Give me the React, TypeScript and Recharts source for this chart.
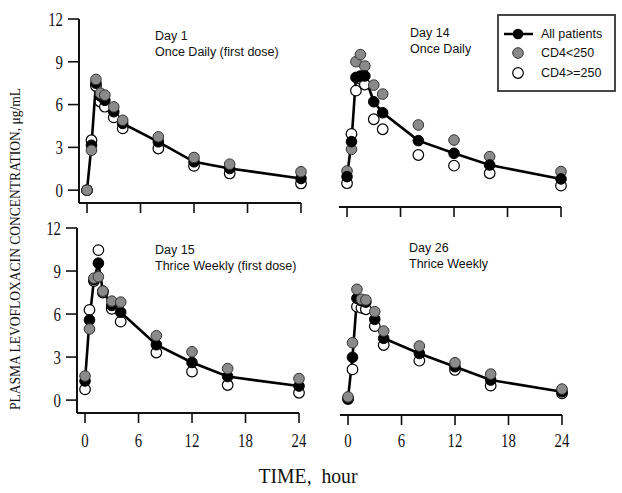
import React from "react";
import { ComposedChart, Line, Scatter, XAxis, YAxis, Legend } from "recharts";

// sampling times (hour)
const times = [0, 0.5, 1, 1.5, 2, 3, 4, 8, 12, 16, 24];
const xTicks = [0, 6, 12, 18, 24];
const yTicks = [0, 3, 6, 9, 12];
const seriesNames = ["All patients", "CD4<250", "CD4>=250"];

// Day 1, once daily (first dose)
const day1All = [0, 3.15, 7.5, 6.6, 6.3, 5.5, 4.68, 3.39, 1.99, 1.52, 0.82];
const day1Low = [0, 2.8, 7.76, 6.8, 6.66, 5.84, 4.9, 3.74, 2.29, 1.82, 1.29];
const day1High = [0, 3.5, 7.3, 6.2, 5.85, 5.1, 4.33, 2.92, 1.7, 1.17, 0.47];

// Day 14, once daily
const day14All = [0.93, 3.39, 7.9, 8.0, 8.0, 6.19, 5.42, 3.46, 2.57, 1.75, 0.77];
const day14Low = [1.33, 2.85, 9.0, 9.5, 8.7, 7.36, 6.73, 4.56, 3.5, 2.34, 1.29];
const day14High = [0.47, 3.93, 6.97, 7.8, 7.4, 4.96, 4.26, 2.45, 1.7, 1.17, 0.3];

// Day 15, thrice weekly (first dose)
const day15All = [1.33, 5.59, 8.4, 9.55, 7.6, 6.6, 6.13, 3.86, 2.62, 1.64, 0.98];
const day15Low = [1.68, 4.96, 8.5, 8.6, 7.6, 6.9, 6.83, 4.49, 3.37, 2.2, 1.5];
const day15High = [0.75, 6.29, 8.3, 10.46, 7.5, 6.36, 5.47, 3.32, 1.99, 1.05, 0.51];

// Day 26, thrice weekly
const day26All = [0.05, 2.93, 7.07, 6.9, 6.8, 5.59, 4.26, 3.2, 2.27, 1.33, 0.51];
const day26Low = [0.15, 3.95, 7.7, 7.0, 6.95, 6.13, 4.77, 3.72, 2.55, 1.75, 0.7];
const day26High = [0, 2.08, 6.48, 6.4, 6.3, 5.12, 3.79, 2.69, 2.04, 0.94, 0.4];

const build = (all: number[], low: number[], high: number[]) =>
  times.map((t, i) => ({ t, all: all[i], low: low[i], high: high[i] }));

const serif = "'Liberation Serif', 'DejaVu Serif', serif";
const sans = "'Liberation Sans', Arial, sans-serif";
const ink = "#111";

const GrayDot = (p: any) => (
  <circle cx={p.cx} cy={p.cy} r={5.3} fill="#8a8a8a" stroke="#333" strokeWidth={1} />
);
const WhiteDot = (p: any) => (
  <circle cx={p.cx} cy={p.cy} r={5.3} fill="#fff" stroke="#000" strokeWidth={1.2} />
);

const YTick = ({ x, y, payload }: any) => (
  <g transform={`translate(${x},${y})`}>
    <text transform="scale(0.78,1)" textAnchor="end" dy="0.36em" fontSize={19} fontFamily={serif} fill={ink}>
      {payload.value}
    </text>
  </g>
);

const XTick = ({ x, y, payload, dy }: any) => (
  <g transform={`translate(${x},${y})`}>
    <text transform="scale(0.78,1)" textAnchor="middle" dy={dy} fontSize={19} fontFamily={serif} fill={ink}>
      {payload.value}
    </text>
  </g>
);

const LegendBox = () => (
  <svg width={120} height={79}>
    <rect x={1} y={1} width={117} height={76} fill="#fff" stroke="#333" strokeWidth={1.8} />
    <line x1={7} y1={20} x2={36} y2={20} stroke="#000" strokeWidth={2.5} />
    <circle cx={21} cy={20} r={5.3} fill="#000" />
    <GrayDot cx={21} cy={39} />
    <WhiteDot cx={21} cy={59} />
    {seriesNames.map((n, i) => (
      <text key={n} x={44} y={[20, 39, 59][i]} dy="0.35em" fontSize={12.5} fontFamily={sans} fill={ink}>
        {n}
      </text>
    ))}
  </svg>
);

type PanelProps = {
  data: any[];
  left: number;
  top: number;
  height: number;
  margin: { top: number; right: number; bottom: number; left: number };
  yDomain: [number, number];
  showY: boolean;
  yWidth: number;
  xLabels: boolean;
  xHeight: number;
  tickDy: number;
  legend?: boolean;
};

const Panel = ({ data, left, top, height, margin, yDomain, showY, yWidth, xLabels, xHeight, tickDy, legend }: PanelProps) => (
  <div style={{ position: "absolute", left, top }}>
    <ComposedChart width={showY ? 310 : 312} height={height} data={data} margin={margin}>
      <XAxis
        dataKey="t"
        type="number"
        domain={[-0.9, 24]}
        ticks={xTicks}
        interval={0}
        height={xHeight}
        tickSize={10}
        tickMargin={0}
        axisLine={{ stroke: ink, strokeWidth: 2 }}
        tickLine={{ stroke: ink, strokeWidth: 1.6 }}
        tick={xLabels ? (p: any) => <XTick {...p} dy={tickDy} /> : () => <g />}
      />
      <YAxis
        type="number"
        domain={yDomain}
        ticks={yTicks}
        interval={0}
        hide={!showY}
        width={yWidth}
        tickSize={11}
        tickMargin={5}
        axisLine={{ stroke: ink, strokeWidth: 2 }}
        tickLine={{ stroke: ink, strokeWidth: 1.6 }}
        tick={<YTick />}
      />
      <Scatter name={seriesNames[2]} dataKey="high" shape={WhiteDot} isAnimationActive={false} />
      <Line
        name={seriesNames[0]}
        dataKey="all"
        stroke="#000"
        strokeWidth={2.6}
        dot={{ r: 5.3, fill: "#000", stroke: "#000", strokeWidth: 1 }}
        activeDot={false}
        isAnimationActive={false}
      />
      <Scatter name={seriesNames[1]} dataKey="low" shape={GrayDot} isAnimationActive={false} />
      {legend && (
        <Legend
          layout="vertical"
          align="center"
          verticalAlign="middle"
          content={() => <LegendBox />}
          wrapperStyle={{ position: "absolute", left: 187, top: 14, width: 120, height: 79 }}
        />
      )}
    </ComposedChart>
  </div>
);

const Note = ({ left, top, lines }: { left: number; top: number; lines: string[] }) => (
  <div
    style={{
      position: "absolute",
      left,
      top,
      fontFamily: sans,
      fontSize: 12.5,
      lineHeight: "16px",
      color: ink,
      whiteSpace: "nowrap",
    }}
  >
    {lines.map((l) => (
      <div key={l}>{l}</div>
    ))}
  </div>
);

export default function App() {
  return (
    <div style={{ position: "absolute", left: 0, top: 0, width: 622, height: 493, background: "#fff" }}>
      <Panel
        data={build(day1All, day1Low, day1High)}
        left={0}
        top={0}
        height={230}
        margin={{ top: 19, right: 9, bottom: 0, left: 0 }}
        yDomain={[-0.9, 12]}
        showY
        yWidth={79}
        xLabels={false}
        xHeight={27}
        tickDy={0}
      />
      <Panel
        data={build(day14All, day14Low, day14High)}
        left={310}
        top={0}
        height={230}
        margin={{ top: 19, right: 61, bottom: 0, left: 29 }}
        yDomain={[-1.2, 12]}
        showY={false}
        yWidth={0}
        xLabels={false}
        xHeight={23}
        tickDy={0}
        legend
      />
      <Panel
        data={build(day15All, day15Low, day15High)}
        left={0}
        top={210}
        height={255}
        margin={{ top: 18, right: 11, bottom: 25, left: 0 }}
        yDomain={[-0.9, 12]}
        showY
        yWidth={77}
        xLabels
        xHeight={27}
        tickDy={24}
      />
      <Panel
        data={build(day26All, day26Low, day26High)}
        left={310}
        top={210}
        height={255}
        margin={{ top: 18, right: 60, bottom: 25, left: 30 }}
        yDomain={[-1.12, 12]}
        showY={false}
        yWidth={0}
        xLabels
        xHeight={25}
        tickDy={22}
      />
      <Note left={155} top={28} lines={["Day 1", "Once Daily (first dose)"]} />
      <Note left={410} top={25} lines={["Day 14", "Once Daily"]} />
      <Note left={155} top={242} lines={["Day 15", "Thrice Weekly (first dose)"]} />
      <Note left={409} top={240} lines={["Day 26", "Thrice Weekly"]} />
      <svg width={622} height={493} style={{ position: "absolute", left: 0, top: 0, pointerEvents: "none" }}>
        <text
          transform="translate(20,249) rotate(-90)"
          textAnchor="middle"
          textLength={322}
          lengthAdjust="spacingAndGlyphs"
          fontSize={15}
          fontFamily={serif}
          fill={ink}
        >
          PLASMA LEVOFLOXACIN CONCENTRATION, μg/mL
        </text>
        <text
          x={308}
          y={483}
          textAnchor="middle"
          textLength={99}
          lengthAdjust="spacingAndGlyphs"
          fontSize={20}
          fontFamily={serif}
          fill={ink}
          style={{ whiteSpace: "pre" }}
        >
          TIME,  hour
        </text>
      </svg>
    </div>
  );
}
